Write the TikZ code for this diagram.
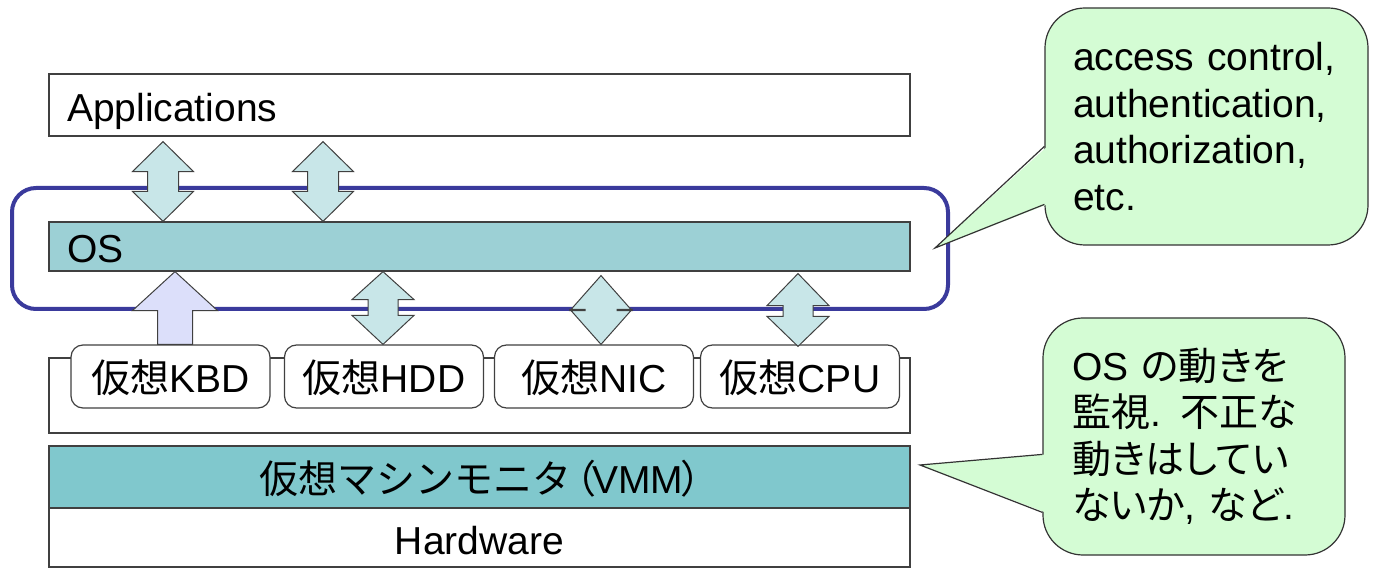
\documentclass[tikz,border=0pt]{standalone}
\usepackage{fontspec}
\setmainfont{Liberation Sans}
\newfontfamily\jp{Noto Sans CJK JP}
\newfontfamily\jpp[RawFeature=+palt]{Noto Sans CJK JP}
\usepackage{tikz}
\usetikzlibrary{calc}

\definecolor{osfill}{HTML}{9CD0D5}
\definecolor{vmmfill}{HTML}{80C8CD}
\definecolor{guardblue}{HTML}{3A3A9C}
\definecolor{arrfill}{HTML}{C8E6E8}
\definecolor{kbdfill}{HTML}{DCDFFA}
\definecolor{notefill}{HTML}{D4FCD4}
\definecolor{edge}{HTML}{404040}

\tikzset{
  layer/.style={rectangle, draw=edge, line width=1.2pt, minimum width=861pt,
    inner xsep=18pt, inner ysep=0pt, text height=33pt, text depth=0pt,
    font=\fontsize{39}{46}\selectfont},
  lefttext/.style={text width=825pt, align=left},
  device/.style={rectangle, draw=edge, fill=white, line width=1.2pt, rounded corners=12pt,
    minimum width=199pt, minimum height=63pt, inner sep=0pt, text height=33pt, text depth=0pt,
    font=\fontsize{39}{46}\selectfont},
  guard/.style={draw=guardblue, line width=4pt, rounded corners=24pt, inner sep=0pt},
  iface/.style={draw=edge, fill=arrfill, line width=1pt, line join=miter},
  kbdarrow/.style={draw=edge, fill=kbdfill, line width=1pt, line join=miter},
  note/.style={draw=black!80, fill=notefill, line width=1.2pt, rounded corners=40pt,
    align=left, inner ysep=0pt, font=\fontsize{39}{46.5}\selectfont},
  noteedge/.style={draw=black!80, line width=1.2pt, line join=miter}
}

% block arrows: tip point, other tip point, half head, half shaft, head lengths
\newcommand{\dblarrow}[6]{%
  \draw[iface] let \p1=#1, \p2=#2 in
    (\x1,\y1) -- (\x1+#3pt,\y1-#5pt) -- (\x1+#4pt,\y1-#5pt) -- (\x1+#4pt,\y2+#6pt)
    -- (\x1+#3pt,\y2+#6pt) -- (\x1,\y2) -- (\x1-#3pt,\y2+#6pt) -- (\x1-#4pt,\y2+#6pt)
    -- (\x1-#4pt,\y1-#5pt) -- (\x1-#3pt,\y1-#5pt) -- cycle;}
\newcommand{\uparrowblock}[5]{%
  \draw[kbdarrow] let \p1=#1, \p2=#2 in
    (\x1,\y1) -- (\x1+#3pt,\y1-#5pt) -- (\x1+#4pt,\y1-#5pt) -- (\x1+#4pt,\y2)
    -- (\x1-#4pt,\y2) -- (\x1-#4pt,\y1-#5pt) -- (\x1-#3pt,\y1-#5pt) -- cycle;}

\begin{document}
\begin{tikzpicture}[x=1pt, y=-1pt]
\useasboundingbox (0,0) rectangle (1377,569);

% layers
\node [layer, lefttext, minimum height=62pt] (apps) at (479.5,105) {Applications};
\node [layer, lefttext, fill=osfill, minimum height=49pt] (os) at (479.5,246.5) {OS};
\node [guard, minimum width=936pt, minimum height=121pt] (guard) at (480,248.5) {};

\node [layer, minimum height=75pt] (vdev) at (479.5,395.5) {};
\node [device] (kbd) at (170.5,376.5) {{\jp 仮想}KBD};
\node [device] (hdd) at (384,376.5) {{\jp 仮想}HDD};
\node [device] (nic) at (594,376.5) {{\jp 仮想}NIC};
\node [device] (cpu) at (800,376.5) {{\jp 仮想}CPU};

\node [layer, fill=vmmfill, minimum height=62pt] (vmm) at (479.5,477)
  {{\jp 仮想マシンモニタ\kern-14pt（\kern-4pt}VMM{\kern-2pt\jp ）\kern-20pt}};
\node [layer, minimum height=59pt] (hw) at (479.5,537.5) {Hardware};

% interfaces
\dblarrow{($(apps.south -| 163,0)+(0,5)$)}{(os.north -| 163,0)}{30.5}{15.5}{30}{30}
\dblarrow{($(apps.south -| 323,0)+(0,5)$)}{(os.north -| 323,0)}{30.5}{15.5}{30}{30}
\uparrowblock{(os.south -| 175,0)}{(kbd.north -| 175,0)}{42.5}{17.5}{39}
\dblarrow{(os.south -| 383,0)}{(hdd.north -| 383,0)}{31}{15}{28}{29}
\dblarrow{($(os.south -| 601,0)+(0,4)$)}{(nic.north -| 601,0)}{31}{16}{35}{35}
\dblarrow{($(os.south -| 798,0)+(0,2)$)}{($(cpu.north -| 798,0)+(0,2)$)}{31}{15}{32}{30}

% callouts
\node [note, text width=267pt, inner xsep=28pt, minimum width=323pt, minimum height=237pt] (note1) at (1206.5,126.5)
  {access control,\\authentication,\\authorization,\\etc.};
\coordinate (tip1) at (935,248);
\fill [notefill] (tip1) -- ($(note1.north west)+(3,139)$) -- ($(note1.north west)+(3,197)$) -- cycle;
\draw [noteedge] ($(note1.north west)+(0,139)$) -- (tip1) -- ($(note1.north west)+(0,197)$);

\node [note, text width=244pt, inner xsep=29pt, minimum width=302pt, minimum height=237pt] (note2) at (1194,436.5)
  {OS {\jpp の動きを}\\{\jpp 監視}. {\jpp 不正な}\\{\jpp 動きはしてい}\\{\jpp ないか}, {\jpp など}.};
\coordinate (tip2) at (920,465);
\fill [notefill] (tip2) -- ($(note2.north west)+(3,137)$) -- ($(note2.north west)+(3,195)$) -- cycle;
\draw [noteedge] ($(note2.north west)+(0,137)$) -- (tip2) -- ($(note2.north west)+(0,195)$);
\end{tikzpicture}
\end{document}
